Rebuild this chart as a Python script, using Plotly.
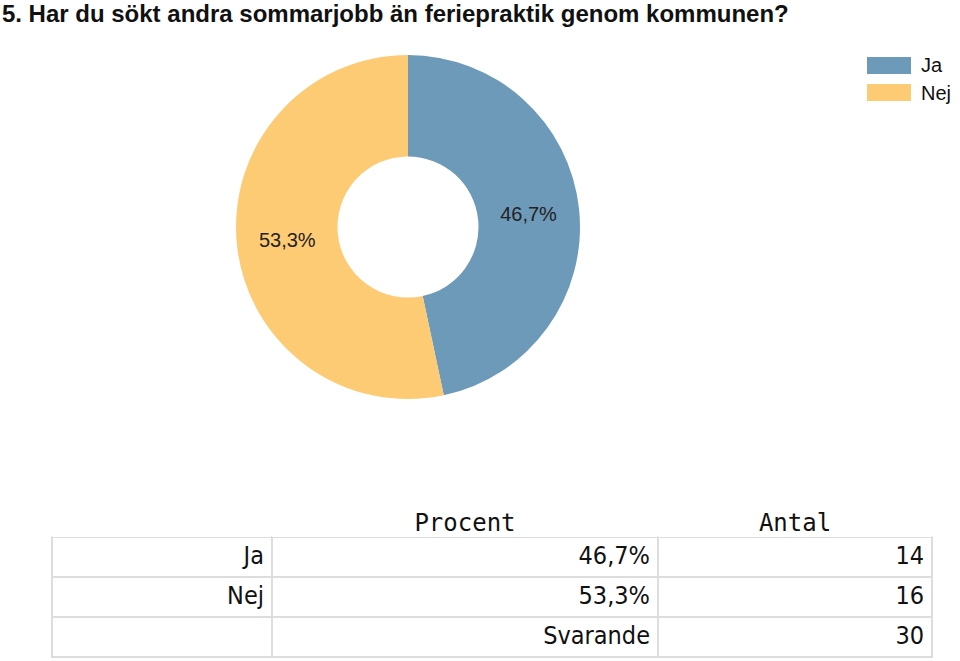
import plotly.graph_objects as go

title = "5. Har du sökt andra sommarjobb än feriepraktik genom kommunen?"
categories = ["Ja", "Nej"]
percent = [46.7, 53.3]
counts = [14, 16]
total_label = "Svarande"
total = 30
colors = ["#6E9AB9", "#FECB75"]

W, H = 960, 661

def fmt_pct(v):
    return f"{v:.1f}".replace(".", ",") + "%"

pct_text = [fmt_pct(p) for p in percent]

fig = go.Figure()

cx, cy, r = 408, 227, 172
fig.add_trace(go.Pie(
    labels=categories,
    values=counts,
    text=pct_text,
    textinfo="text",
    textposition="inside",
    insidetextorientation="horizontal",
    hole=0.41,
    sort=False,
    direction="clockwise",
    rotation=0,
    marker=dict(colors=colors, line=dict(width=0)),
    textfont=dict(family="Liberation Sans, Arial, sans-serif", size=20, color="#222222"),
    domain=dict(x=[(cx - r) / W, (cx + r) / W], y=[1 - (cy + r) / H, 1 - (cy - r) / H]),
    showlegend=False,
))

col1 = categories + [""]
col2 = pct_text + [total_label]
col3 = [str(c) for c in counts] + [str(total)]

fig.add_trace(go.Table(
    domain=dict(x=[52 / W, 932 / W], y=[0, 1 - 505 / H]),
    columnwidth=[220, 386, 274],
    header=dict(
        values=["", "Procent", "Antal"],
        align="center",
        fill=dict(color="white"),
        line=dict(color="white", width=0),
        font=dict(family="DejaVu Sans Mono, monospace", size=24, color="#111111"),
        height=32,
    ),
    cells=dict(
        values=[col1, col2, col3],
        align="right",
        fill=dict(color="white"),
        line=dict(color="#DDDDDD", width=2),
        font=dict(family="DejaVu Sans Condensed, DejaVu Sans Mono, monospace", size=25, color="#111111"),
        height=40,
    ),
))

# legend drawn as swatches + labels (colors and labels from the data arrays)
sw_x0, sw_x1 = 867 / W, 911 / W
sw_top = 57
sw_h = 17
sw_gap = 27
for i, (lab, col) in enumerate(zip(categories, colors)):
    top = sw_top + i * sw_gap
    fig.add_shape(type="rect", xref="paper", yref="paper",
                  x0=sw_x0, x1=sw_x1, y0=1 - (top + sw_h) / H, y1=1 - top / H,
                  fillcolor=col, line=dict(width=0))
    fig.add_annotation(xref="paper", yref="paper", x=919 / W, y=1 - (top + sw_h / 2) / H,
                       xanchor="left", yanchor="middle", text=lab, showarrow=False,
                       font=dict(family="Liberation Sans, Arial, sans-serif", size=20, color="#111111"))

fig.update_layout(
    width=W, height=H,
    margin=dict(l=0, r=0, t=0, b=0),
    paper_bgcolor="white",
    plot_bgcolor="white",
    showlegend=False,
    title=dict(
        text="<b>" + title + "</b>",
        x=0.002, xanchor="left", y=1 - 14 / H, yanchor="middle",
        font=dict(family="Liberation Sans Narrow, Arial Narrow, Liberation Sans, sans-serif", size=24, color="#111111"),
    ),
)

fig.write_html("out.html")
